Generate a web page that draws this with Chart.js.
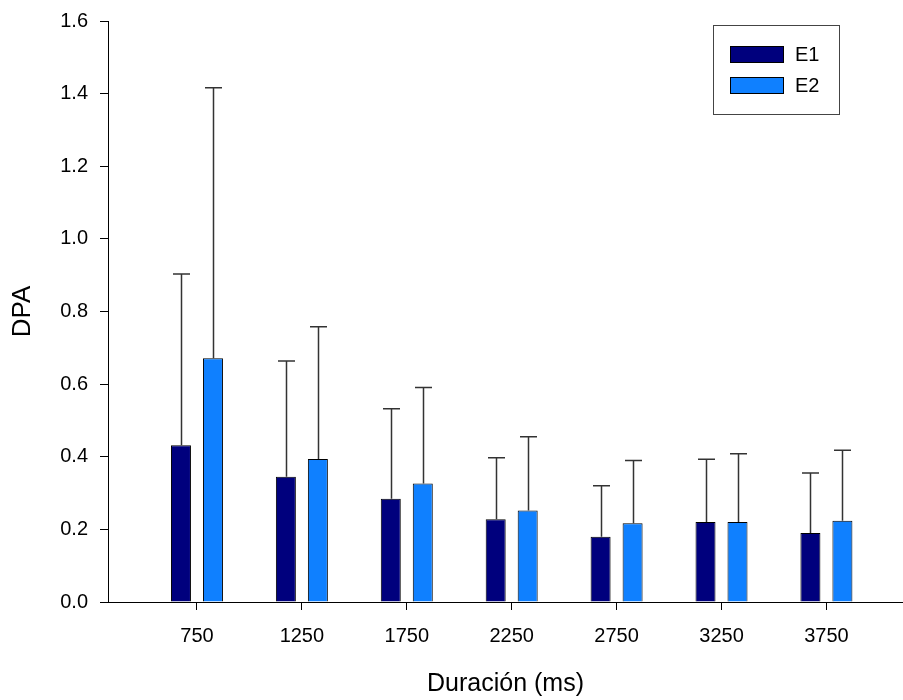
<!DOCTYPE html>
<html>
<head>
<meta charset="utf-8">
<title>DPA por duración</title>
<script src="https://cdn.jsdelivr.net/npm/chart.js"></script>
<style>
  html, body { margin: 0; padding: 0; background: #fff; }
  #wrap { width: 903px; height: 700px; }
</style>
</head>
<body>
<div id="wrap"><canvas id="dpaChart" width="903" height="700"></canvas></div>
<script>
// Durations (ms) and group means / standard deviations
const durations = [750, 1250, 1750, 2250, 2750, 3250, 3750];
const e1Mean = [0.432, 0.345, 0.284, 0.228, 0.180, 0.220, 0.190];
const e1Sd   = [0.471, 0.319, 0.248, 0.169, 0.140, 0.173, 0.165];
const e2Mean = [0.671, 0.394, 0.326, 0.252, 0.217, 0.220, 0.224];
const e2Sd   = [0.745, 0.364, 0.265, 0.203, 0.173, 0.188, 0.194];
const yTicks = [0, 0.2, 0.4, 0.6, 0.8, 1.0, 1.2, 1.4, 1.6];

const fontFamily = '"Liberation Sans", Arial, sans-serif';
const colE1 = '#00007d';
const colE2 = '#0f80ff';

// Upward-only error bars with a cap, drawn from each bar's top
const errorBars = {
    id: 'errorBars',
    afterDatasetsDraw(chart) {
        const ctx = chart.ctx;
        const yScale = chart.scales.y;
        ctx.save();
        ctx.strokeStyle = '#333';
        ctx.lineWidth = 1.5;
        chart.data.datasets.forEach((ds, di) => {
            const meta = chart.getDatasetMeta(di);
            meta.data.forEach((bar, i) => {
                const top = yScale.getPixelForValue(ds.data[i].y + ds.sd[i]);
                const x = Math.round(bar.x) + 0.5;
                ctx.beginPath();
                ctx.moveTo(x, bar.y);
                ctx.lineTo(x, top);
                ctx.moveTo(x - 8.5, top);
                ctx.lineTo(x + 8.5, top);
                ctx.stroke();
            });
        });
        ctx.restore();
    }
};

// Boxed legend in the upper right corner of the plot
const boxLegend = {
    id: 'boxLegend',
    afterDraw(chart) {
        const ctx = chart.ctx;
        const area = chart.chartArea;
        const left = area.right - 190;
        const top = area.top + 4;
        ctx.save();
        ctx.strokeStyle = '#444';
        ctx.lineWidth = 1;
        ctx.strokeRect(left + 0.5, top + 0.5, 126, 89);
        ctx.font = '20px ' + fontFamily;
        ctx.textBaseline = 'middle';
        chart.data.datasets.forEach((ds, i) => {
            const y = top + 21 + i * 31;
            ctx.fillStyle = ds.backgroundColor;
            ctx.fillRect(left + 17, y, 53, 16);
            ctx.strokeStyle = '#000';
            ctx.strokeRect(left + 17.5, y + 0.5, 53, 16);
            ctx.fillStyle = '#000';
            ctx.fillText(ds.label, left + 82, y + 9);
        });
        ctx.restore();
    }
};

const whiteBg = {
    id: 'whiteBg',
    beforeDraw(chart) {
        const ctx = chart.ctx;
        ctx.save();
        ctx.fillStyle = '#fff';
        ctx.fillRect(0, 0, chart.width, chart.height);
        ctx.restore();
    }
};

const ctx = document.getElementById('dpaChart').getContext('2d');
new Chart(ctx, {
    type: 'bar',
    data: {
        datasets: [{
            label: 'E1',
            data: durations.map((d, i) => ({x: d, y: e1Mean[i]})),
            sd: e1Sd,
            backgroundColor: colE1,
            borderColor: '#000',
            borderWidth: 1
        }, {
            label: 'E2',
            data: durations.map((d, i) => ({x: d, y: e2Mean[i]})),
            sd: e2Sd,
            backgroundColor: colE2,
            borderColor: '#000',
            borderWidth: 1
        }]
    },
    options: {
        responsive: false,
        animation: false,
        categoryPercentage: 0.61,
        barPercentage: 0.625,
        layout: {padding: {top: 21, right: 0, bottom: 0, left: 0}},
        plugins: {
            legend: {display: false},
            tooltip: {enabled: false}
        },
        scales: {
            x: {
                type: 'linear',
                offset: false,
                min: 326,
                max: 4115,
                afterBuildTicks: axis => {
                    axis.ticks = durations.map(v => ({value: v}));
                },
                afterFit: axis => {
                    axis.height = 98;
                    axis.paddingLeft = 0;
                    axis.paddingRight = 0;
                },
                ticks: {
                    color: '#000',
                    padding: 14,
                    autoSkip: false,
                    maxRotation: 0,
                    font: {family: fontFamily, size: 20},
                    callback: v => String(v)
                },
                grid: {offset: false, drawOnChartArea: false, tickLength: 8, color: '#000'},
                border: {color: '#000', width: 1},
                title: {
                    display: true,
                    text: 'Duración (ms)',
                    color: '#000',
                    font: {family: fontFamily, size: 25},
                    padding: {top: 0, bottom: 1}
                }
            },
            y: {
                min: 0,
                max: 1.6,
                afterBuildTicks: axis => {
                    axis.ticks = yTicks.map(v => ({value: v}));
                },
                afterFit: axis => {
                    axis.width = 108;
                    axis.paddingTop = 0;
                    axis.paddingBottom = 0;
                },
                ticks: {
                    color: '#000',
                    padding: 12,
                    font: {family: fontFamily, size: 20},
                    callback: v => v.toFixed(1)
                },
                grid: {drawOnChartArea: false, tickLength: 8, color: '#000'},
                border: {color: '#000', width: 1},
                title: {
                    display: true,
                    text: 'DPA',
                    color: '#000',
                    font: {family: fontFamily, size: 26},
                    padding: {top: 7, bottom: 0}
                }
            }
        }
    },
    plugins: [whiteBg, errorBars, boxLegend]
});
</script>
</body>
</html>
